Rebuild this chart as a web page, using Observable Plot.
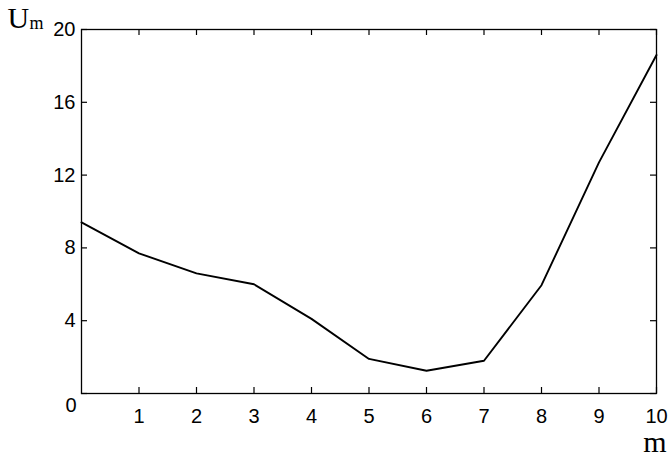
<!DOCTYPE html>
<html>
<head>
<meta charset="utf-8">
<script src="https://cdn.jsdelivr.net/npm/d3@7"></script>
<script src="https://cdn.jsdelivr.net/npm/@observablehq/plot@0.6"></script>
<style>
  html, body { margin: 0; padding: 0; background: #fff; }
</style>
</head>
<body>
<div id="chart"></div>
<script>
const mValues = [0, 1, 2, 3, 4, 5, 6, 7, 8, 9, 10];
const uValues = [9.4, 7.7, 6.6, 6.0, 4.1, 1.9, 1.25, 1.8, 5.95, 12.7, 18.6];
const xTicks = [1, 2, 3, 4, 5, 6, 7, 8, 9, 10];
const yTicks = [4, 8, 12, 16, 20];
const yTicksAll = [0, 4, 8, 12, 16, 20];

const data = mValues.map((m, i) => ({m, u: uValues[i]}));

const W = 672, H = 456;
const mt = 29, mb = 63, ml = 81, mr = 16;
const innerH = H - mt - mb, innerW = W - ml - mr;
const tick = 6;
const sans = "Liberation Sans, Arial, Helvetica, sans-serif";
const serif = "Liberation Serif, Times New Roman, serif";

const plot = Plot.plot({
  width: W,
  height: H,
  marginTop: mt,
  marginBottom: mb,
  marginLeft: ml,
  marginRight: mr,
  style: {background: "#fff", color: "#000", fontFamily: sans},
  x: {domain: [0, 10]},
  y: {domain: [0, 20]},
  marks: [
    Plot.frame({stroke: "#000", strokeWidth: 1.3}),
    // inward ticks (bottom, top)
    Plot.tickX(xTicks, {x: d => d, stroke: "#000", strokeWidth: 1.2, insetTop: innerH - tick}),
    Plot.tickX(xTicks, {x: d => d, stroke: "#000", strokeWidth: 1.2, insetBottom: innerH - tick}),
    // inward ticks (left, right)
    Plot.tickY(yTicksAll, {y: d => d, stroke: "#000", strokeWidth: 1.2, insetRight: innerW - tick}),
    Plot.tickY(yTicksAll, {y: d => d, stroke: "#000", strokeWidth: 1.2, insetLeft: innerW - tick}),
    Plot.axisX(xTicks, {tickSize: 0, tickPadding: 15, fontSize: 20, fill: "#000", label: null}),
    Plot.axisY(yTicks, {tickSize: 0, tickPadding: 6, fontSize: 20, fill: "#000", label: null}),
    Plot.text([0], {x: 0, y: 0, text: d => String(d), dx: -5, dy: 12, textAnchor: "end", fontSize: 20, fill: "#000"}),
    Plot.line(data, {x: "m", y: "u", stroke: "#000", strokeWidth: 1.9}),
    // axis titles
    Plot.text(["U"], {frameAnchor: "top-left", text: d => d, dx: -74, dy: -2, textAnchor: "start", lineAnchor: "bottom", fontFamily: serif, fontSize: 30, fill: "#000"}),
    Plot.text(["m"], {frameAnchor: "top-left", text: d => d, dx: -52, dy: -1, textAnchor: "start", lineAnchor: "bottom", fontFamily: serif, fontSize: 18, fill: "#000"}),
    Plot.text(["m"], {frameAnchor: "bottom-right", text: d => d, dx: 10, dy: 58, textAnchor: "end", lineAnchor: "bottom", fontFamily: serif, fontSize: 30, fill: "#000"})
  ]
});
document.getElementById("chart").appendChild(plot);
</script>
</body>
</html>
